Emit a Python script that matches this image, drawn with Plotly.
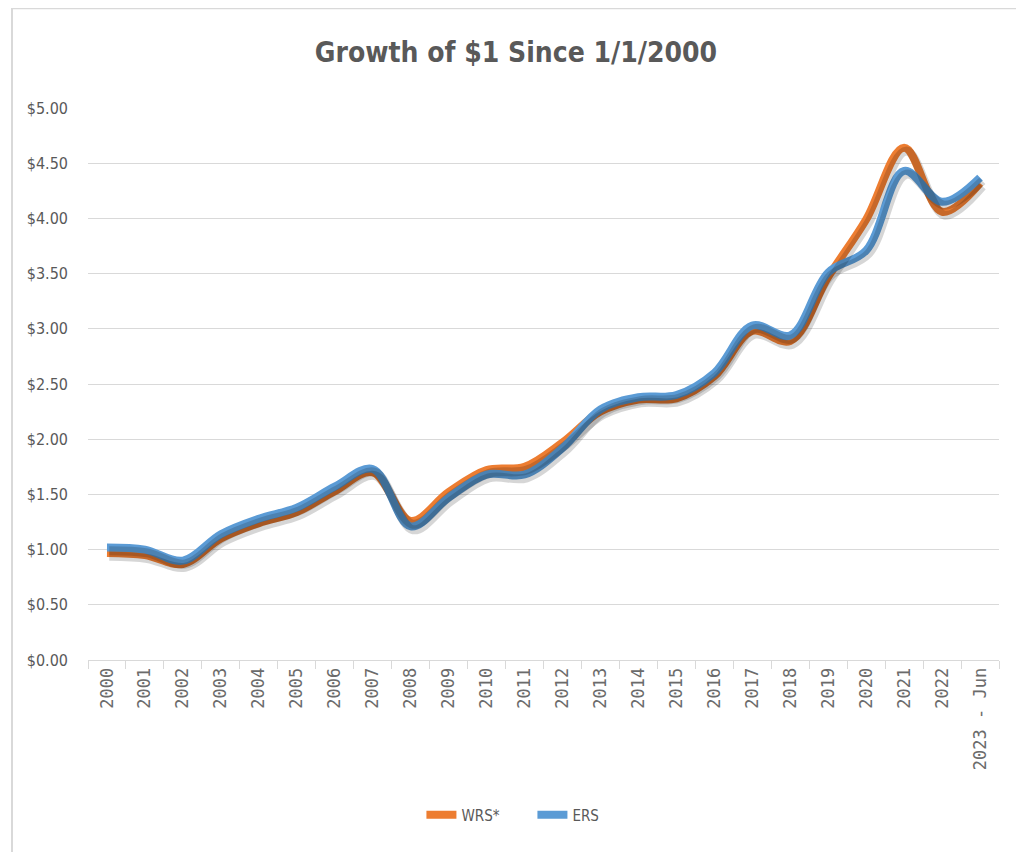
import plotly.graph_objects as go

years = ["2000", "2001", "2002", "2003", "2004", "2005", "2006", "2007", "2008",
         "2009", "2010", "2011", "2012", "2013", "2014", "2015", "2016", "2017",
         "2018", "2019", "2020", "2021", "2022", "2023 - Jun"]
wrs = [0.97, 0.95, 0.87, 1.10, 1.24, 1.34, 1.53, 1.70, 1.26, 1.52, 1.72, 1.75,
       1.97, 2.25, 2.36, 2.37, 2.57, 2.98, 2.89, 3.47, 3.99, 4.64, 4.06, 4.32]
ers = [1.02, 1.00, 0.90, 1.14, 1.28, 1.38, 1.57, 1.73, 1.21, 1.47, 1.68, 1.68,
       1.92, 2.27, 2.38, 2.40, 2.60, 3.03, 2.94, 3.51, 3.71, 4.43, 4.15, 4.37]
series = [("WRS*", wrs, "#ED7D31"), ("ERS", ers, "#5B9BD5")]

fig = go.Figure()
# soft drop shadows, drawn on slightly shifted hidden axes
for name, vals, col in series:
    fig.add_trace(go.Scatter(x=years, y=vals, mode="lines", xaxis="x2", yaxis="y2",
                             line=dict(color="rgba(0,0,0,0.16)", width=9, shape="spline", smoothing=1),
                             showlegend=False, hoverinfo="skip"))
for name, vals, col in series:
    fig.add_trace(go.Scatter(x=years, y=vals, mode="lines", name=name,
                             line=dict(color=col, width=8, shape="spline", smoothing=1)))

cond = "DejaVu Sans Condensed, DejaVu Sans"
fig.update_layout(
    width=1016, height=844,
    margin=dict(l=80, r=25, t=100, b=192),
    paper_bgcolor="white", plot_bgcolor="white",
    title=dict(text="<b>Growth of $1 Since 1/1/2000</b>", x=0.5, xanchor="center", y=0.948, yanchor="middle",
               font=dict(family=cond, size=28, color="#595959")),
    xaxis=dict(type="category", range=[-0.5, 23.5], showgrid=False, showline=True,
               linecolor="#d9d9d9", linewidth=1, ticks="outside", tickson="boundaries",
               ticklen=8, tickcolor="#d9d9d9", tickangle=-90,
               tickfont=dict(family="DejaVu Sans Mono", size=17, color="#6b6b6b")),
    yaxis=dict(range=[0, 5], dtick=0.5, tickformat="$.2f", showgrid=True, gridcolor="#d9d9d9",
               gridwidth=1, zeroline=False, showline=False, ticks="", ticklen=0,
               ticklabelstandoff=19,
               tickfont=dict(family=cond, size=16, color="#595959")),
    xaxis2=dict(type="category", overlaying="x", range=[-0.56, 23.44], visible=False),
    yaxis2=dict(overlaying="y", range=[0.03, 5.03], visible=False),
    legend=dict(orientation="h", x=0.366, xanchor="left", y=-0.281, yanchor="middle",
                entrywidth=66, entrywidthmode="pixels",
                font=dict(family=cond, size=15, color="#595959")),
    shapes=[dict(type="rect", xref="paper", yref="paper", x0=-0.0834, x1=1.2, y0=-0.6, y1=1.1805,
                 line=dict(color="#d9d9d9", width=2))],
)

fig.write_html("out.html")
